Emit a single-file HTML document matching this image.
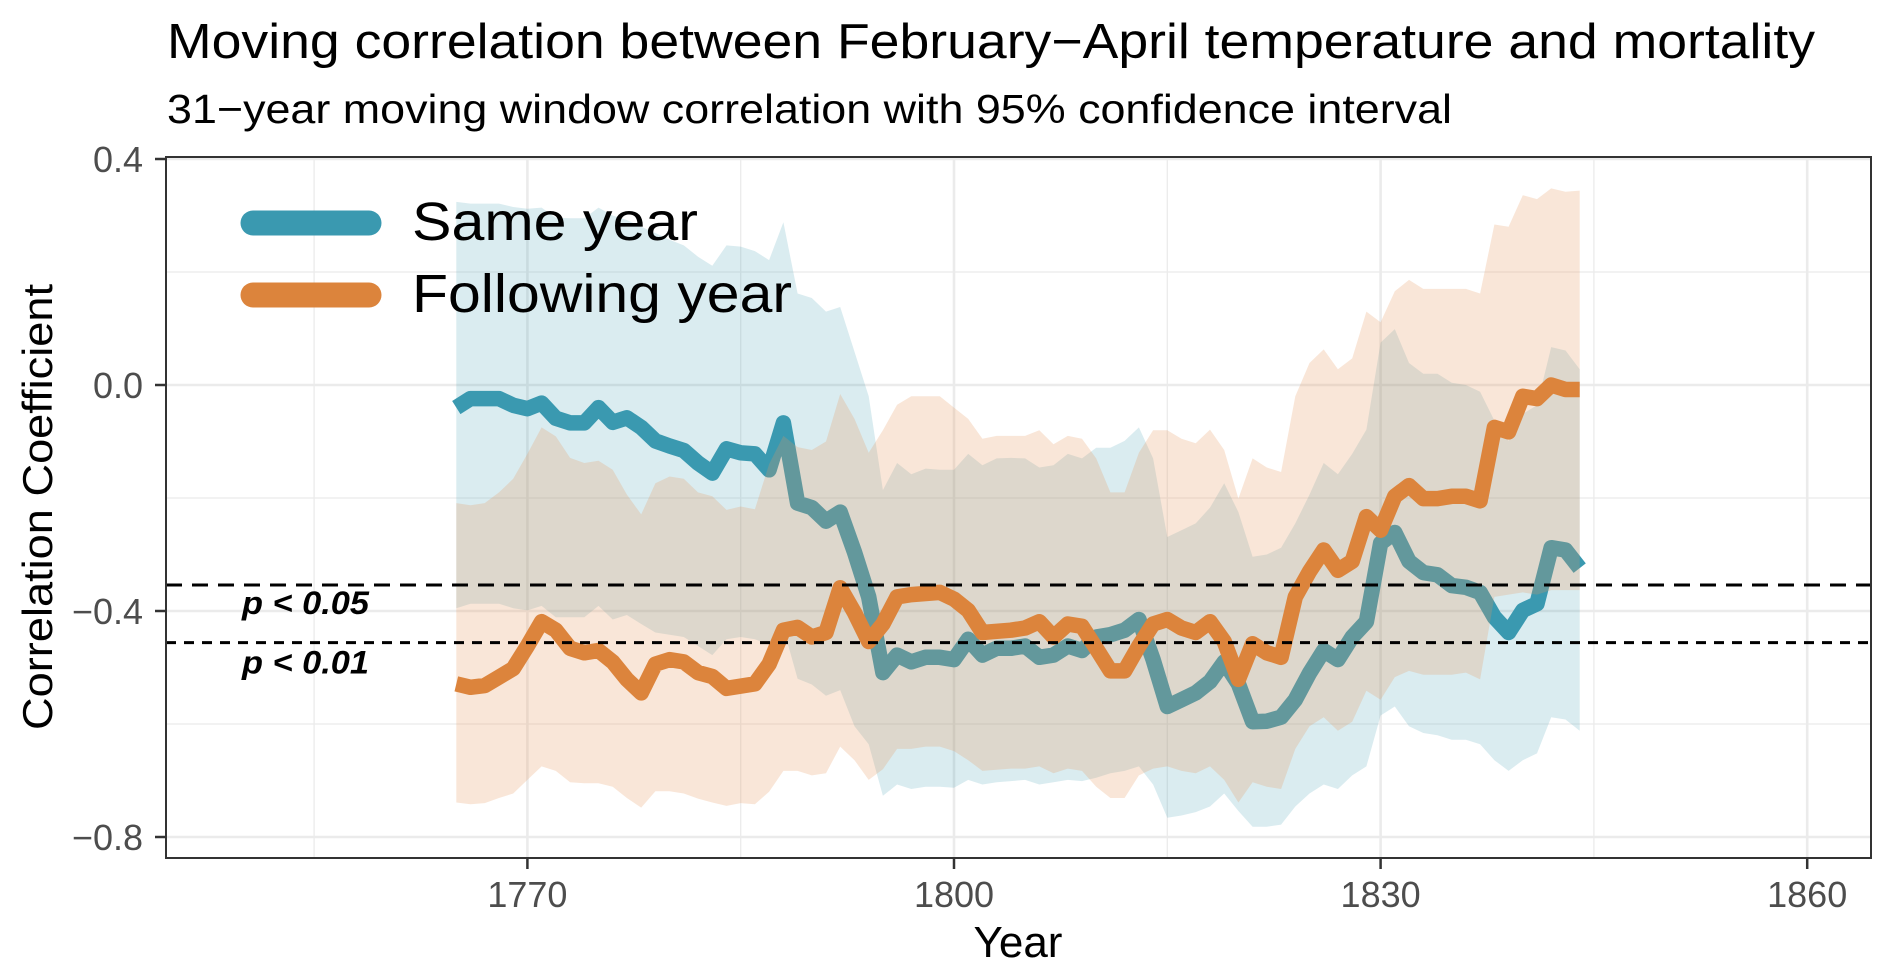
<!DOCTYPE html>
<html><head><meta charset="utf-8">
<style>
html,body{margin:0;padding:0;background:#fff;}
svg{display:block;font-family:"Liberation Sans",Arial,sans-serif;}
</style></head>
<body>
<svg id="chart" width="1892" height="977" viewBox="0 0 1892 977" xmlns="http://www.w3.org/2000/svg">
  <rect x="0" y="0" width="1892" height="977" fill="#fff"/>
  <text x="167" y="58" font-size="49" textLength="1648" lengthAdjust="spacingAndGlyphs" fill="#000">Moving correlation between February−April temperature and mortality</text>
  <text x="167" y="123" font-size="41" textLength="1285" lengthAdjust="spacingAndGlyphs" fill="#000">31−year moving window correlation with 95% confidence interval</text>
  <g id="grid"></g>
  <g id="ribbons"></g>
  <g id="axes"></g>
  <rect x="166" y="157" width="1705" height="701" fill="none" stroke="#333" stroke-width="2"/>
  <text transform="translate(52,507) rotate(-90)" text-anchor="middle" font-size="42" textLength="446" lengthAdjust="spacingAndGlyphs" fill="#000">Correlation Coefficient</text>
  <text x="1018" y="957" text-anchor="middle" font-size="44" fill="#000">Year</text>
  <g>
    <line x1="253" y1="223" x2="369" y2="223" stroke="#3A99B0" stroke-width="25" stroke-linecap="round"/>
    <text x="412" y="240" font-size="54" textLength="286" lengthAdjust="spacingAndGlyphs" fill="#000">Same year</text>
    <line x1="253" y1="295" x2="369" y2="295" stroke="#DC843C" stroke-width="25" stroke-linecap="round"/>
    <text x="412" y="312" font-size="54" textLength="380" lengthAdjust="spacingAndGlyphs" fill="#000">Following year</text>
  </g>
</svg>
<script>
const years = [];
for (let y = 1765; y <= 1844; y++) years.push(y);
const sameR = [-0.04,-0.024,-0.024,-0.024,-0.036,-0.042,-0.032,-0.059,-0.067,-0.067,-0.04,-0.066,-0.058,-0.075,-0.099,-0.108,-0.116,-0.138,-0.156,-0.113,-0.12,-0.122,-0.15,-0.067,-0.209,-0.217,-0.241,-0.225,-0.296,-0.375,-0.509,-0.478,-0.49,-0.482,-0.482,-0.486,-0.45,-0.478,-0.466,-0.466,-0.462,-0.482,-0.478,-0.462,-0.47,-0.446,-0.442,-0.434,-0.415,-0.486,-0.569,-0.557,-0.545,-0.525,-0.49,-0.529,-0.596,-0.595,-0.588,-0.557,-0.51,-0.47,-0.486,-0.446,-0.419,-0.28,-0.261,-0.312,-0.332,-0.336,-0.355,-0.358,-0.367,-0.411,-0.438,-0.399,-0.387,-0.288,-0.292,-0.324];
const sameUpper = [0.324,0.321,0.321,0.321,0.315,0.312,0.314,0.296,0.295,0.295,0.314,0.300,0.292,0.280,0.269,0.257,0.247,0.227,0.211,0.247,0.245,0.237,0.221,0.288,0.162,0.154,0.130,0.138,0.059,-0.02,-0.186,-0.138,-0.158,-0.148,-0.15,-0.15,-0.122,-0.142,-0.13,-0.129,-0.13,-0.146,-0.142,-0.122,-0.13,-0.111,-0.111,-0.099,-0.075,-0.13,-0.269,-0.257,-0.245,-0.217,-0.174,-0.225,-0.304,-0.300,-0.288,-0.245,-0.194,-0.138,-0.158,-0.122,-0.079,0.075,0.099,0.039,0.020,0.020,0.004,0.0,-0.012,-0.063,-0.099,-0.051,-0.036,0.067,0.061,0.028];
const sameLower = [-0.395,-0.387,-0.387,-0.387,-0.395,-0.399,-0.391,-0.411,-0.411,-0.411,-0.391,-0.415,-0.407,-0.423,-0.438,-0.442,-0.446,-0.462,-0.478,-0.45,-0.446,-0.45,-0.46,-0.43,-0.52,-0.53,-0.55,-0.54,-0.604,-0.636,-0.727,-0.707,-0.715,-0.711,-0.711,-0.713,-0.699,-0.707,-0.703,-0.701,-0.699,-0.707,-0.703,-0.699,-0.701,-0.695,-0.687,-0.683,-0.675,-0.707,-0.766,-0.762,-0.756,-0.746,-0.723,-0.754,-0.782,-0.782,-0.778,-0.746,-0.723,-0.707,-0.715,-0.691,-0.675,-0.585,-0.569,-0.604,-0.616,-0.62,-0.628,-0.628,-0.636,-0.664,-0.683,-0.664,-0.652,-0.588,-0.592,-0.612];
const follR = [-0.529,-0.535,-0.532,-0.517,-0.502,-0.462,-0.419,-0.434,-0.466,-0.474,-0.47,-0.49,-0.521,-0.545,-0.494,-0.486,-0.49,-0.509,-0.516,-0.537,-0.533,-0.529,-0.494,-0.434,-0.429,-0.446,-0.438,-0.359,-0.403,-0.454,-0.423,-0.375,-0.371,-0.369,-0.367,-0.379,-0.399,-0.438,-0.436,-0.434,-0.43,-0.419,-0.446,-0.423,-0.427,-0.466,-0.506,-0.506,-0.462,-0.423,-0.415,-0.43,-0.438,-0.419,-0.454,-0.521,-0.458,-0.474,-0.482,-0.375,-0.33,-0.292,-0.328,-0.312,-0.233,-0.257,-0.197,-0.178,-0.201,-0.201,-0.197,-0.197,-0.205,-0.075,-0.083,-0.02,-0.024,0.0,-0.008,-0.008];
const follUpper = [-0.209,-0.213,-0.209,-0.19,-0.166,-0.122,-0.075,-0.091,-0.129,-0.138,-0.134,-0.15,-0.194,-0.229,-0.174,-0.162,-0.166,-0.19,-0.197,-0.221,-0.215,-0.22,-0.14,-0.09,-0.11,-0.115,-0.10,-0.016,-0.06,-0.12,-0.08,-0.035,-0.02,-0.02,-0.02,-0.04,-0.06,-0.095,-0.09,-0.09,-0.09,-0.08,-0.105,-0.09,-0.095,-0.13,-0.19,-0.19,-0.12,-0.08,-0.08,-0.095,-0.103,-0.079,-0.115,-0.201,-0.13,-0.146,-0.154,-0.02,0.039,0.063,0.028,0.047,0.13,0.111,0.166,0.186,0.17,0.17,0.17,0.17,0.162,0.284,0.28,0.336,0.329,0.348,0.342,0.344];
const follLower = [-0.739,-0.742,-0.74,-0.731,-0.723,-0.699,-0.675,-0.683,-0.703,-0.705,-0.705,-0.711,-0.731,-0.748,-0.719,-0.719,-0.723,-0.732,-0.739,-0.745,-0.74,-0.742,-0.72,-0.683,-0.683,-0.691,-0.687,-0.64,-0.664,-0.699,-0.68,-0.644,-0.644,-0.64,-0.64,-0.648,-0.664,-0.683,-0.681,-0.679,-0.679,-0.675,-0.687,-0.679,-0.683,-0.711,-0.731,-0.731,-0.691,-0.679,-0.675,-0.683,-0.687,-0.675,-0.699,-0.739,-0.703,-0.711,-0.715,-0.644,-0.604,-0.588,-0.612,-0.596,-0.541,-0.557,-0.517,-0.506,-0.513,-0.513,-0.513,-0.509,-0.521,-0.375,-0.371,-0.367,-0.371,-0.363,-0.363,-0.363];
const xTicks = [1770, 1800, 1830, 1860];
const xMinor = [1755, 1785, 1815, 1845];
const yTicks = [0.4, 0.0, -0.4, -0.8];
const yTickLabels = ["0.4", "0.0", "−0.4", "−0.8"];
const yMinor = [0.2, -0.2, -0.6];
const sigLevels = [-0.354, -0.456];
const sigLabels = ["p < 0.05", "p < 0.01"];

const NS = "http://www.w3.org/2000/svg";
const PL = 166, PR = 1871, PT = 157, PB = 858;
function xScale(yr) { return 954 + (yr - 1800) * 14.22; }
function yScale(v) { return 385 - v * 565; }
function mk(tag, attrs, parent) {
  const e = document.createElementNS(NS, tag);
  for (const k in attrs) e.setAttribute(k, attrs[k]);
  parent.appendChild(e);
  return e;
}
const grid = document.getElementById("grid");
const layer = document.getElementById("ribbons");
const axes = document.getElementById("axes");

yMinor.forEach(v => {
  const l = mk("line", {x1: PL, x2: PR, y1: yScale(v), y2: yScale(v), stroke: "#ebebeb", "stroke-width": 1.3}, grid);
  
  
});
xMinor.forEach(t => {
  const l = mk("line", {x1: xScale(t), x2: xScale(t), y1: PT, y2: PB, stroke: "#ebebeb", "stroke-width": 1.3}, grid);
  
  
});
yTicks.forEach(v => {
  const l = mk("line", {x1: PL, x2: PR, y1: yScale(v), y2: yScale(v), stroke: "#ebebeb", "stroke-width": 2.6}, grid);
  
  
});
xTicks.forEach(t => {
  const l = mk("line", {x1: xScale(t), x2: xScale(t), y1: PT, y2: PB, stroke: "#ebebeb", "stroke-width": 2.6}, grid);
  
  
});

function ribbonPath(up, lo) {
  let d = "";
  years.forEach((yr, i) => { d += (i ? "L" : "M") + xScale(yr).toFixed(1) + "," + yScale(up[i]).toFixed(1); });
  for (let i = years.length - 1; i >= 0; i--) d += "L" + xScale(years[i]).toFixed(1) + "," + yScale(lo[i]).toFixed(1);
  return d + "Z";
}
function linePath(vals) {
  let d = "";
  years.forEach((yr, i) => { d += (i ? "L" : "M") + xScale(yr).toFixed(1) + "," + yScale(vals[i]).toFixed(1); });
  return d;
}
const r1 = mk("path", {d: ribbonPath(sameUpper, sameLower), fill: "#3A99B0", "fill-opacity": 0.19}, layer);


const l1 = mk("path", {d: linePath(sameR), fill: "none", stroke: "#3A99B0", "stroke-width": 15.5, "stroke-linejoin": "round"}, layer);


const r2 = mk("path", {d: ribbonPath(follUpper, follLower), fill: "#E8955A", "fill-opacity": 0.24}, layer);


const l2 = mk("path", {d: linePath(follR), fill: "none", stroke: "#DC843C", "stroke-width": 15.5, "stroke-linejoin": "round"}, layer);



sigLevels.forEach((v, i) => {
  const l = mk("line", {x1: PL, x2: PR, y1: yScale(v), y2: yScale(v), stroke: "#000", "stroke-width": 3, "stroke-dasharray": i === 0 ? "16,10" : "10,8"}, layer);
  
  
  const t = mk("text", {x: 242, y: yScale(v) + (i === 0 ? 29 : 31), "font-size": 32, "font-weight": "bold", "font-style": "italic", textLength: 127, lengthAdjust: "spacingAndGlyphs", fill: "#000"}, layer);
  t.textContent = sigLabels[i];
  
  
});

yTicks.forEach((v, i) => {
  const tk = mk("line", {x1: 155, x2: 166, y1: yScale(v), y2: yScale(v), stroke: "#333", "stroke-width": 2.5}, axes);
  
  
  const t = mk("text", {x: 143, y: yScale(v) + 13, "text-anchor": "end", "font-size": 36, fill: "#4d4d4d"}, axes);
  t.textContent = yTickLabels[i];
  
  
});
xTicks.forEach(tv => {
  const tk = mk("line", {x1: xScale(tv), x2: xScale(tv), y1: 858, y2: 869, stroke: "#333", "stroke-width": 2.5}, axes);
  
  
  const t = mk("text", {x: xScale(tv), y: 907, "text-anchor": "middle", "font-size": 36, fill: "#4d4d4d"}, axes);
  t.textContent = String(tv);
  
  
});
</script>
</body></html>
